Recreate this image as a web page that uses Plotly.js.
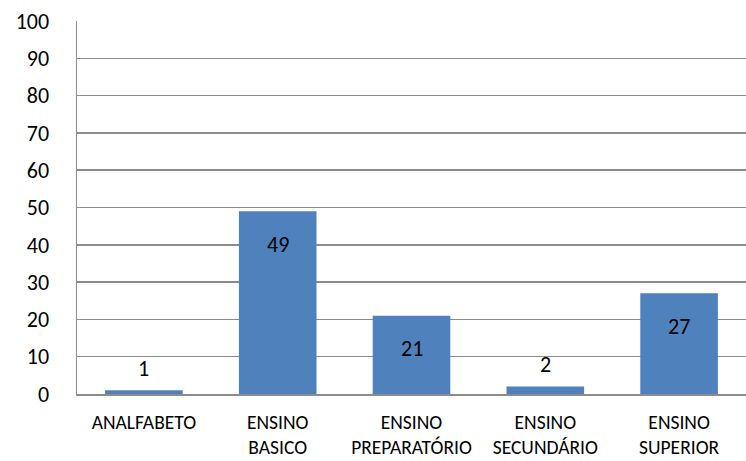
<!DOCTYPE html>
<html>
<head>
<meta charset="utf-8">
<script src="https://cdn.plot.ly/plotly-3.0.1.min.js"></script>
<style>
  html, body { margin: 0; padding: 0; background: #fff; }
  #chart { width: 746px; height: 461px; }
</style>
</head>
<body>
<div id="chart"></div>
<script>
// Education level distribution
const categories = ['ANALFABETO', 'ENSINO<br>BASICO', 'ENSINO<br>PREPARATÓRIO', 'ENSINO<br>SECUNDÁRIO', 'ENSINO<br>SUPERIOR'];
const values = [1, 49, 21, 2, 27];
const yTicks = [0, 10, 20, 30, 40, 50, 60, 70, 80, 90, 100];

const FONT = 'Carlito, Lato, "Open Sans", sans-serif';
const BAR_COLOR = '#4F81BD';
const GRID_COLOR = '#8c8c8c';

const bars = {
  type: 'bar',
  x: categories,
  y: values,
  marker: { color: BAR_COLOR, line: { width: 0 } },
  width: 0.58,
  hoverinfo: 'none'
};

// Value labels: inside near the top for tall bars, above the bar for short ones
const annotations = categories.map((c, i) => ({
  x: c,
  y: values[i],
  xref: 'x',
  yref: 'y',
  text: String(values[i]),
  showarrow: false,
  yshift: values[i] >= 10 ? -33 : 22,
  font: { family: FONT, size: 22, color: '#000' }
}));

const layout = {
  width: 746,
  height: 461,
  margin: { l: 77, r: 0, t: 21, b: 67 },
  paper_bgcolor: '#fff',
  plot_bgcolor: '#fff',
  showlegend: false,
  bargap: 0.42,
  xaxis: {
    type: 'category',
    range: [-0.5, 4.5],
    showgrid: false,
    showline: true,
    linecolor: GRID_COLOR,
    linewidth: 1.5,
    ticks: '',
    ticklabelstandoff: 10,
    tickfont: { family: FONT, size: 19.5, color: '#000' },
    fixedrange: true
  },
  yaxis: {
    range: [0, 100],
    tickvals: yTicks,
    ticktext: yTicks.map(String),
    showgrid: true,
    gridcolor: GRID_COLOR,
    gridwidth: 1.5,
    zeroline: false,
    showline: true,
    linecolor: GRID_COLOR,
    linewidth: 1.5,
    ticks: '',
    ticklabelstandoff: 22,
    tickfont: { family: FONT, size: 22, color: '#000' },
    fixedrange: true
  },
  annotations: annotations
};

Plotly.newPlot('chart', [bars], layout, { displayModeBar: false, staticPlot: true });
</script>
</body>
</html>
